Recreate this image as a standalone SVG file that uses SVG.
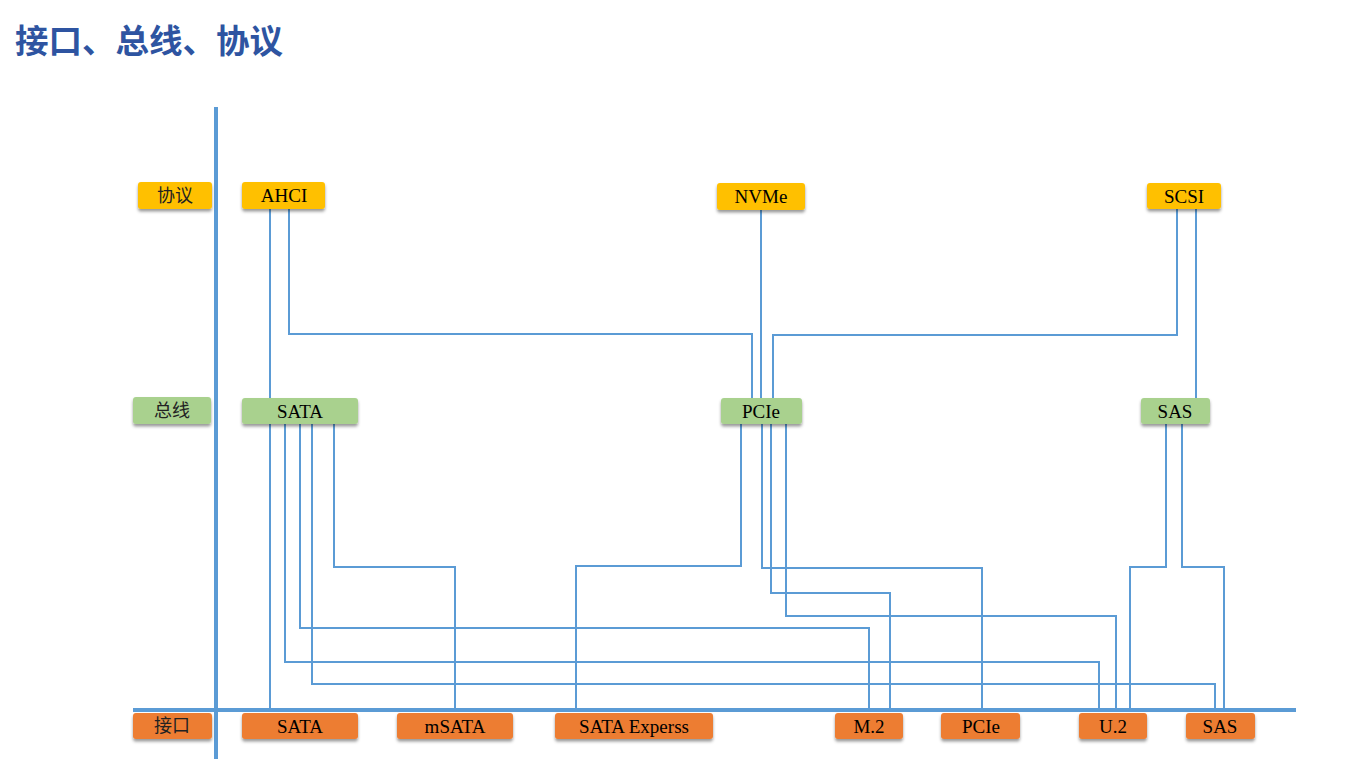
<svg xmlns="http://www.w3.org/2000/svg" width="1352" height="759" viewBox="0 0 1352 759">
<style>
.t{font-family:"Liberation Serif","Times New Roman",serif;font-size:19px;fill:#000;text-anchor:middle}
.c{font-family:"Noto Sans CJK SC","Noto Sans",sans-serif;font-size:18px;fill:#222;text-anchor:middle}
.title{font-family:"Noto Sans CJK SC","Noto Sans",sans-serif;font-size:33.5px;font-weight:bold;fill:#2E54A1}
.p{fill:#FFC000}
.b{fill:#A9D18E}
.i{fill:#ED7D31}
.ln{fill:none;stroke:#5B9BD5;stroke-width:2}
.ax{fill:none;stroke:#5B9BD5;stroke-width:4}
</style>
<defs>
<filter id="sh" x="-20%" y="-30%" width="140%" height="170%">
<feDropShadow dx="0" dy="2.5" stdDeviation="1.8" flood-color="#000" flood-opacity="0.4"/>
</filter>
</defs>
<rect width="1352" height="759" fill="#fff"/>
<text class="title" x="15" y="53">接口、总线、协议</text>

<g id="axes">
<line class="ax" x1="216" y1="107" x2="216" y2="759"/>
<line class="ax" x1="133" y1="710" x2="1296" y2="710"/>
</g>

<g id="connectors">
<path class="ln" d="M270,208 V398"/>
<path class="ln" d="M289,208 V334 H752 V398"/>
<path class="ln" d="M761,210 V398"/>
<path class="ln" d="M1177,209 V335 H773 V398"/>
<path class="ln" d="M1196,209 V398"/>
<path class="ln" d="M270,424 V710"/>
<path class="ln" d="M334,424 V567 H455 V710"/>
<path class="ln" d="M300,424 V628 H869 V710"/>
<path class="ln" d="M285,424 V662 H1099 V710"/>
<path class="ln" d="M312,424 V684 H1215 V710"/>
<path class="ln" d="M741,424 V566 H576 V710"/>
<path class="ln" d="M762,424 V568 H982 V710"/>
<path class="ln" d="M771,424 V593 H890 V710"/>
<path class="ln" d="M786,424 V616 H1116 V710"/>
<path class="ln" d="M1166,424 V567 H1130 V710"/>
<path class="ln" d="M1182,424 V567 H1224 V710"/>
</g>

<g id="label-protocol"><rect class="p" x="138" y="182" width="74" height="27" rx="3" filter="url(#sh)"/><text class="c" x="175" y="202">协议</text></g>
<g id="node-ahci"><rect class="p" x="242" y="182" width="83" height="27" rx="3" filter="url(#sh)"/><text class="t" x="284" y="202">AHCI</text></g>
<g id="node-nvme"><rect class="p" x="717" y="183" width="88" height="27" rx="3" filter="url(#sh)"/><text class="t" x="761" y="203">NVMe</text></g>
<g id="node-scsi"><rect class="p" x="1147" y="183" width="74" height="26" rx="3" filter="url(#sh)"/><text class="t" x="1184" y="203">SCSI</text></g>

<g id="label-bus"><rect class="b" x="133" y="397" width="78" height="27" rx="3" filter="url(#sh)"/><text class="c" x="172" y="417">总线</text></g>
<g id="node-bus-sata"><rect class="b" x="242" y="398" width="116" height="26" rx="3" filter="url(#sh)"/><text class="t" x="300" y="418">SATA</text></g>
<g id="node-bus-pcie"><rect class="b" x="721" y="398" width="81" height="26" rx="3" filter="url(#sh)"/><text class="t" x="761" y="418">PCIe</text></g>
<g id="node-bus-sas"><rect class="b" x="1141" y="398" width="69" height="26" rx="3" filter="url(#sh)"/><text class="t" x="1175" y="418">SAS</text></g>

<g id="label-interface"><rect class="i" x="133" y="713" width="79" height="26" rx="3" filter="url(#sh)"/><text class="c" x="172" y="732">接口</text></g>
<g id="node-if-sata"><rect class="i" x="242" y="713" width="116" height="26" rx="3" filter="url(#sh)"/><text class="t" x="300" y="733">SATA</text></g>
<g id="node-if-msata"><rect class="i" x="397" y="713" width="116" height="26" rx="3" filter="url(#sh)"/><text class="t" x="455" y="733">mSATA</text></g>
<g id="node-if-sataexp"><rect class="i" x="555" y="713" width="158" height="26" rx="3" filter="url(#sh)"/><text class="t" x="634" y="733">SATA Experss</text></g>
<g id="node-if-m2"><rect class="i" x="835" y="713" width="68" height="26" rx="3" filter="url(#sh)"/><text class="t" x="869" y="733">M.2</text></g>
<g id="node-if-pcie"><rect class="i" x="941" y="713" width="79" height="26" rx="3" filter="url(#sh)"/><text class="t" x="981" y="733">PCIe</text></g>
<g id="node-if-u2"><rect class="i" x="1079" y="713" width="68" height="26" rx="3" filter="url(#sh)"/><text class="t" x="1113" y="733">U.2</text></g>
<g id="node-if-sas"><rect class="i" x="1186" y="713" width="69" height="26" rx="3" filter="url(#sh)"/><text class="t" x="1220" y="733">SAS</text></g>
</svg>
